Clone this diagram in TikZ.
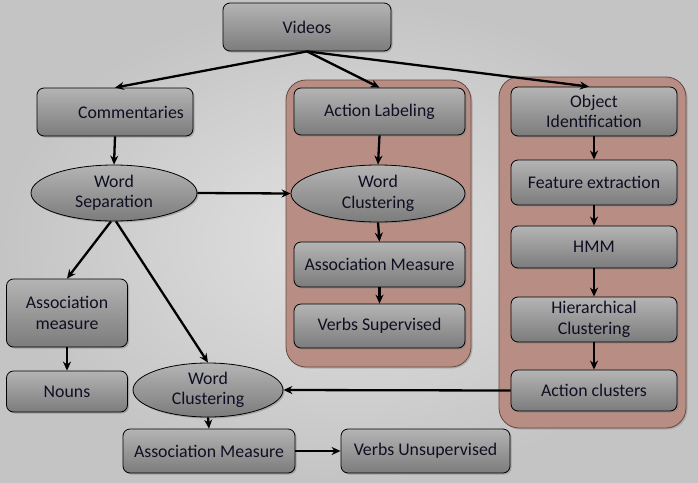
\documentclass[tikz,border=0pt]{standalone}
\usepackage{fontspec}
\setmainfont{Carlito}
\usetikzlibrary{shapes.geometric,shadows,arrows.meta}
\definecolor{boxtop}{RGB}{180,180,180}
\definecolor{boxbot}{RGB}{124,124,124}
\definecolor{txt}{RGB}{15,15,35}
\definecolor{contfill}{RGB}{184,142,132}
\definecolor{contdraw}{RGB}{100,72,64}
\definecolor{bgin}{RGB}{226,226,226}
\definecolor{bgout}{RGB}{196,196,196}
\begin{document}
\begin{tikzpicture}[x=1pt,y=-1pt,
  box/.style={draw=black, line width=0.8pt, rounded corners=7pt,
    top color=boxtop, bottom color=boxbot,
    drop shadow={shadow xshift=1.5pt,shadow yshift=-1.5pt,opacity=0.5},
    align=center, font=\fontsize{17.8}{20.5}\selectfont, text=txt, inner sep=0pt},
  ell/.style={ellipse, draw=black, line width=0.8pt,
    top color=boxtop, bottom color=boxbot,
    drop shadow={shadow xshift=1.5pt,shadow yshift=-1.5pt,opacity=0.5},
    align=center, font=\fontsize{17.8}{20.5}\selectfont, text=txt, inner sep=0pt},
  contbox/.style={draw=contdraw, line width=0.8pt, fill=contfill, rounded corners=20pt,
    drop shadow={shadow xshift=1.5pt,shadow yshift=-1.5pt,opacity=0.4}},
  arr/.style={-{Stealth[length=9pt,width=8pt]}, line width=2.3pt, black}
]
\useasboundingbox (0,0) rectangle (698,482);
\shade[inner color=bgin, outer color=bgout] (0,0) rectangle (698,482);

% containers
\node[contbox, minimum width=185pt, minimum height=287pt] (c1) at (378.5,223.5) {};
\node[contbox, minimum width=187pt, minimum height=351pt] (c2) at (592.5,252.5) {};

% nodes
\node[box, minimum width=168pt, minimum height=48pt] (vid) at (307,27) {Videos};
\node[box, minimum width=156pt, minimum height=48pt] (com) at (115,112) {\hspace*{32pt}Commentaries};
\node[ell, minimum width=166pt, minimum height=56pt] (ws) at (114,193) {Word\\Separation};
\node[box, minimum width=121pt, minimum height=68pt] (aml) at (67,313) {Association\\measure};
\node[box, minimum width=121pt, minimum height=41pt] (nou) at (67,391.5) {Nouns};
\node[ell, minimum width=150pt, minimum height=54pt] (wcb) at (208,390) {Word\\Clustering};
\node[box, minimum width=172pt, minimum height=44pt] (amb) at (209,451) {Association Measure};
\node[box, minimum width=169pt, minimum height=44pt] (vu) at (425.5,451) {Verbs Unsupervised};

\node[box, minimum width=171pt, minimum height=47pt] (al) at (379.5,111.5) {Action Labeling};
\node[ell, minimum width=174pt, minimum height=57pt] (wcm) at (378,193.5) {Word\\Clustering};
\node[box, minimum width=171pt, minimum height=45pt] (amm) at (379.5,264.5) {Association Measure};
\node[box, minimum width=171pt, minimum height=44pt] (vs) at (379.5,326) {Verbs Supervised};

\node[box, minimum width=166pt, minimum height=49pt] (oi) at (594,111.5) {Object\\Identification};
\node[box, minimum width=166pt, minimum height=45pt] (fe) at (594,182.5) {Feature extraction};
\node[box, minimum width=166pt, minimum height=42pt] (hmm) at (594,247) {HMM};
\node[box, minimum width=166pt, minimum height=45pt] (hc) at (594,319.5) {Hierarchical\\Clustering};
\node[box, minimum width=166pt, minimum height=41pt] (ac) at (594,390.5) {Action clusters};

% arrows
\draw[arr] (vid.south) -- (com.north);
\draw[arr] (vid.south) -- (al.north);
\draw[arr] (vid.south) -- ([xshift=-5pt]oi.north);
\draw[arr] (com.south) -- (ws.north);
\draw[arr] (ws.east) -- (wcm.west);
\draw[arr] ([xshift=-3pt]ws.south) -- (aml.north);
\draw[arr] ([xshift=2pt]ws.south) -- (wcb.north);
\draw[arr] (aml.south) -- (nou.north);
\draw[arr] (wcb.south) -- (amb.north);
\draw[arr] (amb.east) -- (vu.west);
\draw[arr] (ac.west) -- (wcb.east);

\draw[arr] (al.south) -- (wcm.north);
\draw[arr] (wcm.south) -- (amm.north);
\draw[arr] (amm.south) -- (vs.north);

\draw[arr] (oi.south) -- (fe.north);
\draw[arr] (fe.south) -- (hmm.north);
\draw[arr] (hmm.south) -- (hc.north);
\draw[arr] (hc.south) -- (ac.north);
\end{tikzpicture}
\end{document}
